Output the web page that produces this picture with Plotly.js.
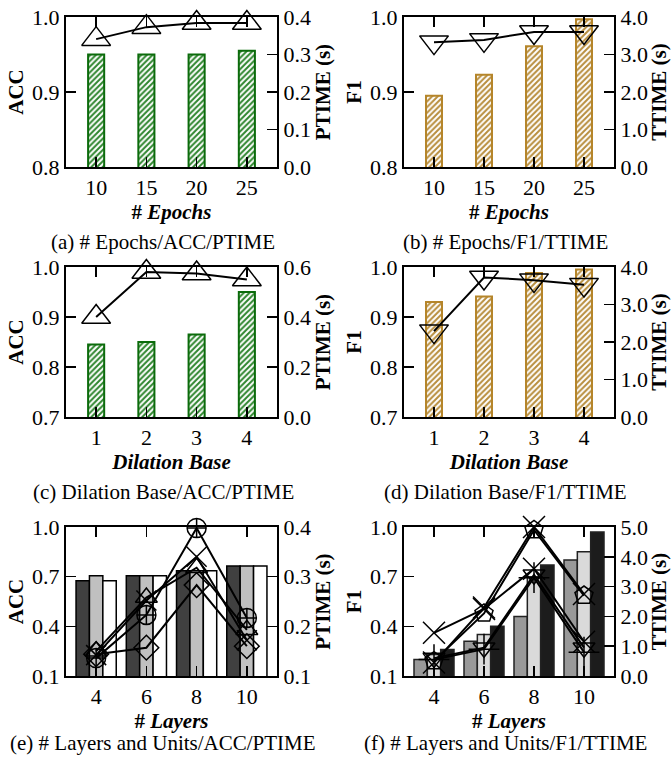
<!DOCTYPE html>
<html><head><meta charset="utf-8">
<script src="https://cdn.plot.ly/plotly-3.0.1.min.js"></script>
<style>html,body{margin:0;padding:0;background:#fff}#chart{width:671px;height:763px}</style>
</head><body><div id="chart"></div>
<script>
// ---------- data ----------
const epochs = ['10','15','20','25'];
const accEpochs = [0.950, 0.950, 0.950, 0.955];
const ptimeEpochs = [0.341, 0.373, 0.384, 0.384];
const f1Epochs = [0.895, 0.923, 0.961, 0.997];
const ttimeEpochs = [3.33, 3.39, 3.60, 3.60];

const dilation = ['1','2','3','4'];
const accDilation = [0.845, 0.850, 0.865, 0.950];
const ptimeDilation = [0.400, 0.580, 0.574, 0.550];
const f1Dilation = [0.930, 0.941, 0.988, 0.995];
const ttimeDilation = [2.29, 3.72, 3.65, 3.53];

const layers = ['4','6','8','10'];
const accLayersDark = [0.676, 0.706, 0.735, 0.764];
const accLayersGray = [0.706, 0.706, 0.735, 0.764];
const accLayersWhite = [0.676, 0.706, 0.735, 0.764];
const ptimeCircle = [0.136, 0.223, 0.398, 0.217];
const ptimeTriangle = [0.150, 0.258, 0.318, 0.193];
const ptimeX = [0.142, 0.252, 0.340, 0.172];
const ptimeDiamond = [0.144, 0.157, 0.283, 0.160];

const f1LayersGray = [0.20, 0.31, 0.46, 0.80];
const f1LayersLight = [0.23, 0.35, 0.70, 0.85];
const f1LayersBlack = [0.26, 0.40, 0.77, 0.97];
const ttimeXmid = [1.45, 2.25, 3.60, 1.15];
const ttimePentagon = [0.50, 2.10, 4.90, 2.70];
const ttimeXtop = [0.45, 2.30, 5.00, 2.75];
const ttimeTriDown = [0.60, 0.95, 3.40, 0.95];
const ttimePlus = [0.55, 0.90, 3.30, 0.80];

const ticksAcc1 = [0.8, 0.9, 1.0];
const ticksPtime1 = [0.0, 0.1, 0.2, 0.3, 0.4];
const ticksTtime = [0.0, 1.0, 2.0, 3.0, 4.0];
const ticksAcc2 = [0.7, 0.8, 0.9, 1.0];
const ticksPtime2 = [0.0, 0.2, 0.4, 0.6];
const ticksAcc3 = [0.1, 0.4, 0.7, 1.0];
const ticksPtime3 = [0.1, 0.2, 0.3, 0.4];
const ticksTtime3 = [0.0, 1.0, 2.0, 3.0, 4.0, 5.0];

const captions = ['(a) # Epochs/ACC/PTIME', '(b) # Epochs/F1/TTIME',
  '(c) Dilation Base/ACC/PTIME', '(d) Dilation Base/F1/TTIME',
  '(e) # Layers and Units/ACC/PTIME', '(f) # Layers and Units/F1/TTIME'];

// ---------- layout helpers ----------
const W = 671, H = 763;
const FONT = 'Liberation Serif, Times New Roman, serif';
const cols = [[66, 277], [404, 614]];
const rows = [[17, 167], [267, 417], [527, 676]];
const capY = [242, 492, 743];
const capX = [163, 505];

const layout = {
  width: W, height: H, margin: {l: 0, r: 0, t: 0, b: 0},
  paper_bgcolor: '#fff', plot_bgcolor: 'rgba(0,0,0,0)',
  showlegend: false, barmode: 'group', bargap: 0.2, bargroupgap: 0,
  font: {family: FONT, size: 22, color: '#000'},
  annotations: []
};
const traces = [];

function axName(prefix, n) { return prefix + (n === 1 ? '' : n); }

const xTitles = ['<b># <i>Epochs</i></b>', '<b># <i>Epochs</i></b>',
  '<b><i>Dilation Base</i></b>', '<b><i>Dilation Base</i></b>',
  '<b># <i>Layers</i></b>', '<b># <i>Layers</i></b>'];
const lTitles = ['ACC', 'F1', 'ACC', 'F1', 'ACC', 'F1'];
const rTitles = ['PTIME (s)', 'TTIME (s)', 'PTIME (s)', 'TTIME (s)', 'PTIME (s)', 'TTIME (s)'];
const cats = [epochs, epochs, dilation, dilation, layers, layers];
const lRanges = [[0.8, 1.0], [0.8, 1.0], [0.7, 1.0], [0.7, 1.0], [0.1, 1.0], [0.1, 1.0]];
const rRanges = [[0, 0.4], [0, 4.0], [0, 0.6], [0, 4.0], [0.1, 0.4], [0, 5.0]];
const lTicks = [ticksAcc1, ticksAcc1, ticksAcc2, ticksAcc2, ticksAcc3, ticksAcc3];
const rTicks = [ticksPtime1, ticksTtime, ticksPtime2, ticksTtime, ticksPtime3, ticksTtime3];

for (let i = 0; i < 6; i++) {
  const c = cols[i % 2], r = rows[Math.floor(i / 2)];
  const xn = i + 1, yl = 2 * i + 1, yr = 2 * i + 2;
  const xid = axName('x', xn), ylid = axName('y', yl), yrid = axName('y', yr);
  layout[axName('xaxis', xn)] = {
    domain: [c[0] / W, c[1] / W], anchor: ylid, type: 'category',
    range: [-0.6, 3.6], showline: true, linecolor: '#000', linewidth: 2,
    mirror: 'ticks', ticks: 'inside', ticklen: 10, tickwidth: 1.5, tickcolor: '#000',
    showgrid: false, zeroline: false, fixedrange: true,
    tickfont: {family: FONT, size: 22},
    title: {text: xTitles[i], font: {family: FONT, size: 21}, standoff: i >= 4 ? 0 : 2}
  };
  layout[axName('yaxis', yl)] = {
    domain: [1 - r[1] / H, 1 - r[0] / H], anchor: xid, side: 'left',
    range: lRanges[i], tickvals: lTicks[i], tickformat: '.1f',
    showline: true, linecolor: '#000', linewidth: 2,
    ticks: 'inside', ticklen: 10, tickwidth: 1.5, tickcolor: '#000',
    showgrid: false, zeroline: false, fixedrange: true,
    tickfont: {family: FONT, size: 22},
    title: {text: '<b>' + lTitles[i] + '</b>', font: {family: FONT, size: 21}, standoff: 3}
  };
  layout[axName('yaxis', yr)] = {
    overlaying: ylid, anchor: xid, side: 'right',
    range: rRanges[i], tickvals: rTicks[i], tickformat: '.1f',
    showline: true, linecolor: '#000', linewidth: 2,
    ticks: 'inside', ticklen: 10, tickwidth: 1.5, tickcolor: '#000',
    showgrid: false, zeroline: false, fixedrange: true,
    tickfont: {family: FONT, size: 22},
    title: {text: '<b>' + rTitles[i] + '</b>', font: {family: FONT, size: 21}, standoff: 3}
  };
  layout.annotations.push({
    text: captions[i], xref: 'paper', yref: 'paper',
    x: capX[i % 2] / W, y: 1 - capY[Math.floor(i / 2)] / H,
    xanchor: 'center', yanchor: 'middle', showarrow: false,
    font: {family: FONT, size: 21, color: '#000'}
  });
}

// ---------- traces ----------
const green = {color: '#ffffff', line: {color: '#0b6b0b', width: 2},
  pattern: {shape: '/', fgcolor: '#2f862f', bgcolor: '#ffffff', size: 4, solidity: 0.5}};
const gold = {color: '#ffffff', line: {color: '#b5852a', width: 2},
  pattern: {shape: '/', fgcolor: '#b88e3e', bgcolor: '#ffffff', size: 4, solidity: 0.5}};

function bar(x, y, xa, ya, marker, width) {
  const t = {type: 'bar', x: x, y: y, xaxis: xa, yaxis: ya, marker: marker, hoverinfo: 'skip'};
  if (width) t.width = width;
  return t;
}
function line(x, y, xa, ya, symbol, size) {
  return {type: 'scatter', mode: 'lines+markers', x: x, y: y, xaxis: xa, yaxis: ya,
    line: {color: '#000', width: 2}, cliponaxis: false,
    marker: {symbol: symbol, size: size, color: '#000', line: {color: '#000', width: 1.5}},
    hoverinfo: 'skip'};
}

traces.push(bar(epochs, accEpochs, 'x', 'y', green, 0.32));
traces.push(line(epochs, ptimeEpochs, 'x', 'y2', 'triangle-up-open', 25));
traces.push(bar(epochs, f1Epochs, 'x2', 'y3', gold, 0.32));
traces.push(line(epochs, ttimeEpochs, 'x2', 'y4', 'triangle-down-open', 25));
traces.push(bar(dilation, accDilation, 'x3', 'y5', green, 0.32));
traces.push(line(dilation, ptimeDilation, 'x3', 'y6', 'triangle-up-open', 25));
traces.push(bar(dilation, f1Dilation, 'x4', 'y7', gold, 0.32));
traces.push(line(dilation, ttimeDilation, 'x4', 'y8', 'triangle-down-open', 25));

const blackEdge = {color: '#000', width: 1.5};
traces.push(bar(layers, accLayersDark, 'x5', 'y9', {color: '#404040', line: blackEdge}));
traces.push(bar(layers, accLayersGray, 'x5', 'y9', {color: '#c0c0c0', line: blackEdge}));
traces.push(bar(layers, accLayersWhite, 'x5', 'y9', {color: '#ffffff', line: blackEdge}));
traces.push(line(layers, ptimeCircle, 'x5', 'y10', 'circle-cross-open', 19));
traces.push(line(layers, ptimeTriangle, 'x5', 'y10', 'triangle-up-open', 19));
traces.push(line(layers, ptimeX, 'x5', 'y10', 'x-thin-open', 20));
traces.push(line(layers, ptimeDiamond, 'x5', 'y10', 'diamond-open', 19));

const darkEdge = {color: '#222', width: 1.5};
traces.push(bar(layers, f1LayersGray, 'x6', 'y11', {color: '#999999', line: darkEdge}));
traces.push(bar(layers, f1LayersLight, 'x6', 'y11', {color: '#dadada', line: darkEdge}));
traces.push(bar(layers, f1LayersBlack, 'x6', 'y11', {color: '#1c1c1c', line: darkEdge}));
traces.push(line(layers, ttimeXmid, 'x6', 'y12', 'x-thin-open', 22));
traces.push(line(layers, ttimePentagon, 'x6', 'y12', 'pentagon-open', 19));
traces.push(line(layers, ttimeXtop, 'x6', 'y12', 'x-thin-open', 22));
traces.push(line(layers, ttimeTriDown, 'x6', 'y12', 'triangle-down-open', 19));
traces.push(line(layers, ttimePlus, 'x6', 'y12', 'cross-thin-open', 22));

Plotly.newPlot('chart', traces, layout, {staticPlot: true, displayModeBar: false});
</script></body></html>
